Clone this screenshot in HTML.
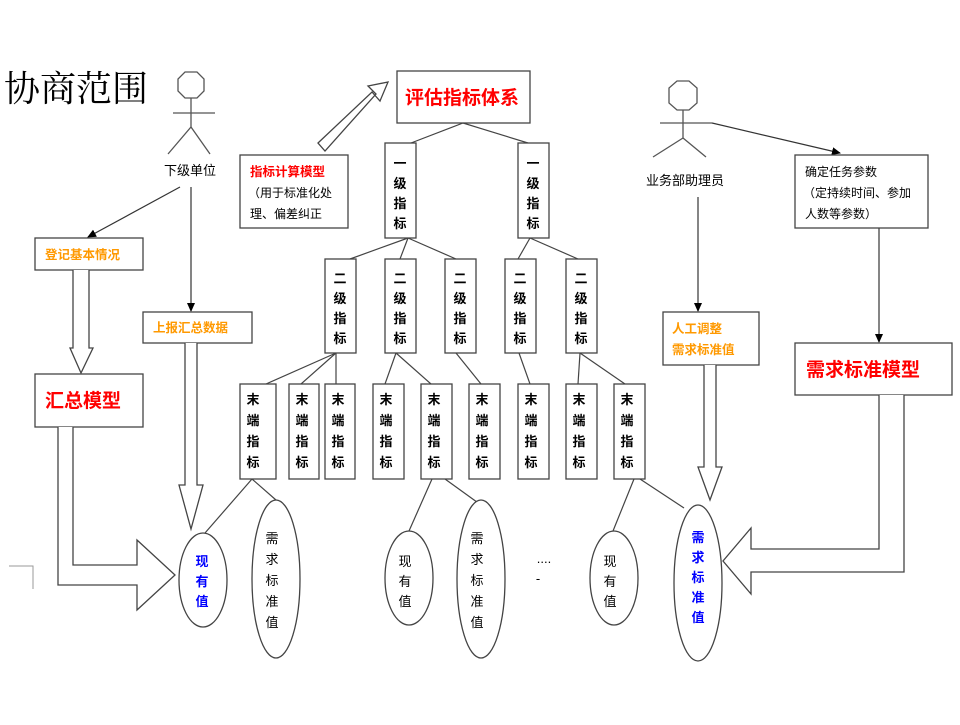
<!DOCTYPE html>
<html><head><meta charset="utf-8"><style>
body{margin:0;background:#fff;}
svg text{font-family:"Liberation Sans","Noto Sans CJK SC",sans-serif;}
</style></head><body>
<svg width="960" height="720" viewBox="0 0 960 720" xmlns="http://www.w3.org/2000/svg">
<defs><marker id="a" markerWidth="10" markerHeight="10" refX="8" refY="4" orient="auto" markerUnits="userSpaceOnUse"><path d="M0,0 L9,4 L0,8 z" fill="#000"/></marker></defs>
<rect width="960" height="720" fill="#fff"/>
<text x="4" y="101" font-size="36" font-family="'Noto Serif CJK SC',serif" style="font-family:'Noto Serif CJK SC',serif">协商范围</text>
<g stroke="#555" stroke-width="1.3" fill="none">
<!-- figure 1 -->
<polygon points="185,72 197,72 204,79 204,91 197,98 185,98 178,91 178,79"/>
<line x1="191" y1="98" x2="191" y2="127"/><line x1="173" y1="113" x2="215" y2="113"/>
<line x1="191" y1="127" x2="168" y2="154"/><line x1="191" y1="127" x2="210" y2="154"/>
<!-- figure 2 -->
<polygon points="677,81 689,81 697,88 697,103 689,110 677,110 669,103 669,88"/>
<line x1="683" y1="110" x2="683" y2="138"/><line x1="660" y1="123" x2="712" y2="123"/>
<line x1="683" y1="138" x2="653" y2="157"/><line x1="683" y1="138" x2="706" y2="157"/>
</g>
<text x="190" y="175" font-size="13" text-anchor="middle">下级单位</text>
<text x="685" y="185" font-size="13" text-anchor="middle">业务部助理员</text>
<g stroke="#333" stroke-width="1.2" fill="none">
<line x1="180" y1="187" x2="88" y2="237" marker-end="url(#a)"/>
<line x1="191" y1="187" x2="191" y2="311" marker-end="url(#a)"/>
<line x1="712" y1="123" x2="840" y2="153" marker-end="url(#a)"/>
<line x1="698" y1="197" x2="698" y2="311" marker-end="url(#a)"/>
<line x1="879" y1="228" x2="879" y2="342" marker-end="url(#a)"/>
</g>
<g stroke="#444" stroke-width="1.3" fill="#fff">
<rect x="35" y="238" width="108" height="32"/>
<rect x="143" y="312" width="109" height="31"/>
<rect x="35" y="374" width="108" height="53"/>
<rect x="397" y="71" width="133" height="52"/>
<rect x="240" y="155" width="108" height="73"/>
<rect x="795" y="155" width="133" height="73"/>
<rect x="795" y="343" width="157" height="52"/>
<rect x="663" y="312" width="96" height="53"/>
<!-- hollow arrows -->
<path d="M73,270 L73,348 L70,348 L81,373 L93,348 L89,348 L89,270" fill="#fff"/>
<path d="M185,343 L185,485 L179,485 L191,529 L203,485 L197,485 L197,343" fill="#fff"/>
<path d="M704,365 L704,467 L698,467 L710,500 L722,467 L716,467 L716,365" fill="#fff"/>
<path d="M58,427 L58,585 L137,585 L137,610 L175,575 L137,540 L137,565 L73,565 L73,427" fill="#fff"/>
<path d="M904,395 L904,572 L751,572 L751,594 L723,561 L751,528 L751,549 L879,549 L879,395" fill="#fff"/>
<path d="M318,143 L372,92 L380,101 L388,82 L368,86 L376,94 L325,151 Z" fill="#fff"/>
</g>
<polyline points="9,566 33,566 33,589" fill="none" stroke="#999" stroke-width="1"/>
<text x="45" y="259" font-size="12.5" font-weight="bold" fill="#f90">登记基本情况</text>
<text x="153" y="332" font-size="12.5" font-weight="bold" fill="#f90">上报汇总数据</text>
<text x="45" y="407" font-size="19" font-weight="bold" fill="#f00">汇总模型</text>
<text x="405" y="104" font-size="19" font-weight="bold" fill="#f00">评估指标体系</text>
<text x="250" y="176" font-size="12.5" font-weight="bold" fill="#f00">指标计算模型</text>
<text x="248" y="197" font-size="12">（用于标准化处</text>
<text x="250" y="218" font-size="12">理、偏差纠正</text>
<text x="805" y="176" font-size="12">确定任务参数</text>
<text x="803" y="197" font-size="12">（定持续时间、参加</text>
<text x="805" y="218" font-size="12">人数等参数）</text>
<text x="806" y="376" font-size="19" font-weight="bold" fill="#f00">需求标准模型</text>
<text x="672" y="333" font-size="12.5" font-weight="bold" fill="#f90">人工调整</text>
<text x="672" y="354" font-size="12.5" font-weight="bold" fill="#f90">需求标准值</text>
<!-- tree lines -->
<g stroke="#444" stroke-width="1.2">
<line x1="463" y1="123" x2="411" y2="143"/><line x1="463" y1="123" x2="528" y2="143"/>
<line x1="408" y1="238" x2="350" y2="259"/><line x1="408" y1="238" x2="400" y2="259"/><line x1="408" y1="238" x2="456" y2="259"/>
<line x1="530" y1="238" x2="518" y2="259"/><line x1="530" y1="238" x2="578" y2="259"/>
<line x1="336" y1="353" x2="266" y2="384"/><line x1="336" y1="353" x2="301" y2="384"/><line x1="336" y1="353" x2="336" y2="384"/>
<line x1="396" y1="353" x2="385" y2="384"/><line x1="396" y1="353" x2="431" y2="384"/>
<line x1="456" y1="353" x2="481" y2="384"/>
<line x1="519" y1="353" x2="530" y2="384"/>
<line x1="580" y1="353" x2="578" y2="384"/><line x1="580" y1="353" x2="625" y2="384"/>
<line x1="252" y1="479" x2="205" y2="533"/><line x1="252" y1="479" x2="276" y2="500"/>
<line x1="432" y1="479" x2="409" y2="531"/><line x1="445" y1="479" x2="481" y2="505"/>
<line x1="634" y1="479" x2="613" y2="531"/><line x1="640" y1="479" x2="684" y2="508"/>
</g>
<g stroke="#444" stroke-width="1.3" fill="#fff">
<rect x="385" y="143" width="31" height="95"/><rect x="518" y="143" width="31" height="95"/>
<rect x="325" y="259" width="31" height="94"/><rect x="385" y="259" width="31" height="94"/><rect x="445" y="259" width="31" height="94"/><rect x="505" y="259" width="31" height="94"/><rect x="566" y="259" width="31" height="94"/>
<rect x="240" y="384" width="36" height="95"/><rect x="289" y="384" width="30" height="95"/><rect x="325" y="384" width="30" height="95"/><rect x="373" y="384" width="31" height="95"/><rect x="421" y="384" width="31" height="95"/><rect x="469" y="384" width="31" height="95"/><rect x="518" y="384" width="31" height="95"/><rect x="566" y="384" width="31" height="95"/><rect x="614" y="384" width="31" height="95"/>
<ellipse cx="203" cy="580" rx="24" ry="47"/><ellipse cx="276" cy="579" rx="24" ry="79"/>
<ellipse cx="409" cy="578" rx="24" ry="47"/><ellipse cx="481" cy="579" rx="24" ry="79"/>
<ellipse cx="614" cy="578" rx="24" ry="47"/><ellipse cx="698" cy="583" rx="24" ry="78"/>
</g>
<g font-size="13" font-weight="bold" text-anchor="middle">
<text x="400" y="168">一</text><text x="400" y="188">级</text><text x="400" y="208">指</text><text x="400" y="228">标</text>
<text x="533" y="168">一</text><text x="533" y="188">级</text><text x="533" y="208">指</text><text x="533" y="228">标</text>
<g id="e">
<text x="340" y="283">二</text><text x="340" y="303">级</text><text x="340" y="323">指</text><text x="340" y="343">标</text>
</g>
<use href="#e" x="60"/><use href="#e" x="120"/><use href="#e" x="180"/><use href="#e" x="241"/>
<g id="m">
<text x="253" y="404">末</text><text x="253" y="425">端</text><text x="253" y="446">指</text><text x="253" y="467">标</text>
</g>
<use href="#m" x="49"/><use href="#m" x="85"/><use href="#m" x="133"/><use href="#m" x="181"/><use href="#m" x="229"/><use href="#m" x="278"/><use href="#m" x="326"/><use href="#m" x="374"/>
</g>
<g font-size="13" text-anchor="middle">
<g font-weight="bold" fill="#00f"><text x="202" y="566">现</text><text x="202" y="586">有</text><text x="202" y="606">值</text></g>
<text x="272" y="543">需</text><text x="272" y="564">求</text><text x="272" y="585">标</text><text x="272" y="606">准</text><text x="272" y="627">值</text>
<text x="405" y="566">现</text><text x="405" y="586">有</text><text x="405" y="606">值</text>
<text x="477" y="543">需</text><text x="477" y="564">求</text><text x="477" y="585">标</text><text x="477" y="606">准</text><text x="477" y="627">值</text>
<text x="610" y="566">现</text><text x="610" y="586">有</text><text x="610" y="606">值</text>
<g font-weight="bold" fill="#00f"><text x="698" y="542">需</text><text x="698" y="562">求</text><text x="698" y="582">标</text><text x="698" y="602">准</text><text x="698" y="622">值</text></g>
<text x="544" y="563">....</text><text x="538" y="583">-</text>
</g>
</svg>
</body></html>
